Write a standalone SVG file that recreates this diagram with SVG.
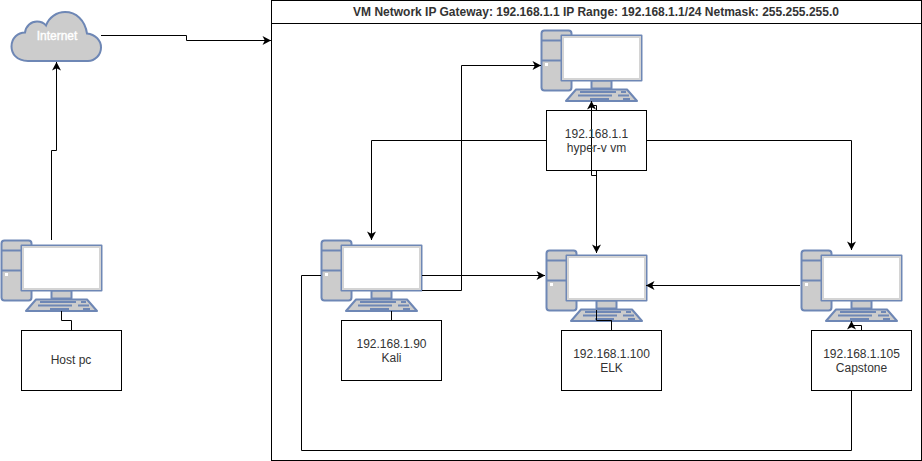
<svg xmlns="http://www.w3.org/2000/svg" width="922" height="461" viewBox="0 0 922 461">
<style>
.t{font-family:"Liberation Sans",Arial,sans-serif;font-size:12px;fill:#333;text-anchor:middle}
.box{fill:#fff;stroke:#000;stroke-width:1}
.c{fill:none;stroke:#000;stroke-width:1}
.pc{stroke:#6e87b5;stroke-width:2;stroke-linejoin:round}
</style>
<defs>
<marker id="a" markerUnits="userSpaceOnUse" markerWidth="11" markerHeight="11" refX="9" refY="5.500" orient="auto"><path d="M0.500 1L9 5.500L0.500 10L2.800 5.500Z" fill="#000"/></marker>
<g id="pc">
<rect class="pc" x="1.500" y="0.500" width="30" height="60" rx="3" fill="#ccc"/>
<path class="pc" d="M2 10.500H31M2 30.500H31" fill="none"/>
<rect x="5" y="33" width="3" height="3" fill="#fff"/>
<rect class="pc" x="51.500" y="50.500" width="20" height="8" fill="#ccc"/>
<path class="pc" d="M36 59.500H87L97 71H26Z" fill="#ccc"/>
<path d="M40 62H76M81 62H86M38 65.500H72M78 65.500H89M50 69H69M83 69H90" stroke="#6e87b5" stroke-width="2" fill="none"/>
<rect class="pc" x="21.500" y="5.500" width="80" height="45" fill="#fff"/>
<rect x="23" y="7" width="77" height="42" fill="none" stroke="#d4d4d4" stroke-width="2"/>
</g>
</defs>
<rect width="922" height="461" fill="#fff"/>
<g id="frame">
<rect class="box" x="271.500" y="0.500" width="650" height="460"/>
<path class="c" d="M271.500 23.500H921.500"/>
<text class="t" x="596" y="16" style="font-weight:bold">VM Network IP Gateway: 192.168.1.1 IP Range: 192.168.1.1/24 Netmask: 255.255.255.0</text>
</g>
<g id="internet">
<path d="M28 61C16 61 11.500 53 11.500 46.500C11.500 38 18 32.500 25 32.500C26 26 31 21.500 37 21.500C41 21.500 44 23 46 25.500C49 17 57 12 65 12C76 12 85 20 87 33.500C95 34.500 101 40 101 47.500C101 55 95 61 88 61Z" fill="#ccc" stroke="#6e87b5" stroke-width="2"/>
<text class="t" x="57" y="40" style="fill:#fff;stroke:#fff;stroke-width:0.4">Internet</text>
</g>
<g id="host"><use href="#pc" x="0" y="240"/></g>
<g id="gateway-pc"><use href="#pc" x="540" y="30"/></g>
<g id="kali-pc"><use href="#pc" x="320" y="240"/></g>
<g id="elk-pc"><use href="#pc" x="545" y="250"/></g>
<g id="capstone-pc"><use href="#pc" x="800" y="250"/></g>
<g id="connectors">
<path class="c" marker-end="url(#a)" d="M101 35.500H186.500V40.500H271"/>
<path class="c" marker-end="url(#a)" d="M51.500 240V150.500H56.500V62"/>
<path class="c" d="M61.500 311V320.500H71.500V330"/>
<path class="c" d="M391.500 311V320"/>
<path class="c" d="M596.500 310V320.500H611.500V330"/>
<path class="c" marker-end="url(#a)" d="M422 290.500H461.500V65.500H541"/>
<path class="c" marker-end="url(#a)" d="M422 275.500H545"/>
<path class="c" marker-end="url(#a)" d="M546 140.500H371.500V240"/>
<path class="c" marker-end="url(#a)" d="M646 140.500H851.500V250"/>
<path class="c" marker-end="url(#a)" d="M596.500 170V253"/>
<path class="c" marker-end="url(#a)" d="M596.500 175.500H591.500V101"/>
<path class="c" d="M596.500 110V105.500H591.500"/>
<path class="c" marker-end="url(#a)" d="M800 285.500H646"/>
<path class="c" marker-end="url(#a)" d="M861.500 330V325.500H851.500V321"/>
<path class="c" d="M851.500 390V450.500H301.500V275.500H321"/>
</g>
<g id="host-label"><rect class="box" x="21.500" y="330.500" width="100" height="60"/><text class="t" x="71" y="364">Host pc</text></g>
<g id="gateway-label"><rect class="box" x="546.500" y="110.500" width="100" height="60" fill-opacity="0"/><text class="t" x="596.500" y="138">192.168.1.1</text><text class="t" x="596.500" y="152">hyper-v vm</text></g>
<g id="kali-label"><rect class="box" x="341.500" y="320.500" width="100" height="60"/><text class="t" x="391.500" y="348">192.168.1.90</text><text class="t" x="391.500" y="362">Kali</text></g>
<g id="elk-label"><rect class="box" x="561.500" y="330.500" width="100" height="60"/><text class="t" x="611.500" y="358">192.168.1.100</text><text class="t" x="611.500" y="372">ELK</text></g>
<g id="capstone-label"><rect class="box" x="811.500" y="330.500" width="100" height="60"/><text class="t" x="861.500" y="358">192.168.1.105</text><text class="t" x="861.500" y="372">Capstone</text></g>
</svg>
